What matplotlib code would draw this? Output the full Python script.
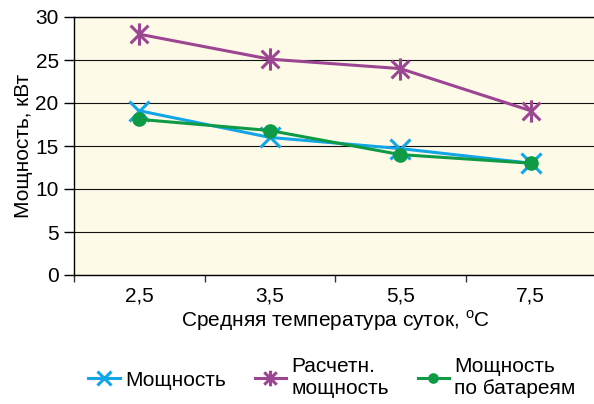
import matplotlib.pyplot as plt
from matplotlib.path import Path
import numpy as np

plt.rcParams['font.family'] = ['Liberation Sans', 'DejaVu Sans']
plt.rcParams['mathtext.fontset'] = 'custom'
plt.rcParams['mathtext.rm'] = 'Liberation Sans'

# Средняя температура суток, °C
temps = ['2,5', '3,5', '5,5', '7,5']
power = [19.1, 16.0, 14.7, 13.0]
power_calc = [28.0, 25.1, 24.0, 19.1]
power_batt = [18.1, 16.8, 14.0, 13.0]

# asterisk: vertical bar plus diagonal cross
star = Path([(0, -1), (0, 1), (-0.8, -0.8), (0.8, 0.8), (-0.8, 0.8), (0.8, -0.8)],
            [Path.MOVETO, Path.LINETO, Path.MOVETO, Path.LINETO, Path.MOVETO, Path.LINETO])

fig = plt.figure(figsize=(5.94, 4.04), dpi=100)
ax = fig.add_axes([74 / 594, 129 / 404, 522 / 594, 258 / 404])
ax.set_facecolor('#fefae8')

x = np.arange(len(temps))
ax.plot(x, power, color='#12a5e8', lw=2.2, marker='x', ms=14, mew=2.2,
        label='Мощность', zorder=3)
ax.plot(x, power_calc, color='#9c4592', lw=2.2, marker=star, ms=16, mew=2.2,
        label='Расчетн.\nмощность', zorder=3)
ax.plot(x, power_batt, color='#0f9a45', lw=2.2, marker='o', ms=9.5,
        label='Мощность\nпо батареям', zorder=4)

ax.set_xlim(-0.5, 3.5)
ax.set_ylim(0, 30)
ax.set_yticks(np.arange(0, 31, 5))
ax.set_xticks(x)
ax.set_xticklabels(temps)
ax.set_xticks(np.arange(-0.5, 4, 1), minor=True)
ax.tick_params(axis='x', which='major', length=0, pad=8, labelsize=15)
ax.tick_params(axis='x', which='minor', length=5, width=1, color='#333333')
ax.tick_params(axis='y', length=7, width=1, pad=4, labelsize=15)

ax.yaxis.grid(True, color='#111111', lw=0.8)
ax.set_axisbelow(True)
ax.spines['right'].set_visible(False)
for s in ['left', 'bottom', 'top']:
    ax.spines[s].set_color('black')
    ax.spines[s].set_linewidth(1)

ax.set_ylabel('Мощность, кВт', fontsize=15, labelpad=2)
ax.set_xlabel('Средняя температура суток, $^{\\mathrm{o}}$C', fontsize=15, labelpad=2)

fig.legend(loc='center', bbox_to_anchor=(332 / 594, 1 - 378 / 404), ncol=3,
           frameon=False, fontsize=15, handlelength=1.5, handletextpad=0.25,
           columnspacing=1.4, markerscale=0.7, borderaxespad=0)

plt.savefig('out.png', dpi=100)
